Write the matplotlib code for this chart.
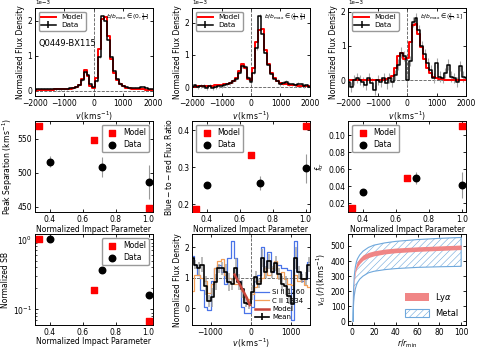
import numpy as np
import matplotlib
matplotlib.use("Agg")
import matplotlib.pyplot as plt

plt.rcParams['font.family'] = ['DejaVu Sans']
plt.rcParams['font.size'] = 5.5
plt.rcParams['mathtext.fontset'] = 'dejavusans'
plt.rcParams['hatch.linewidth'] = 0.4

# ---------------- data ----------------
v_spec = np.arange(-2000, 2001, 100)

data1 = [0.02, 0.04, 0.05, 0.05, 0.04, 0.05, 0.04, 0.03, 0.04, 0.03, 0.04, 0.05, 0.06, 0.07, 0.10,
         0.15, 0.30, 0.52, 0.45, 0.18, 0.10, 0.28, 0.95, 2.12, 2.00, 1.45, 0.95, 0.55, 0.32, 0.20,
         0.14, 0.10, 0.08, 0.07, 0.06, 0.08, 0.10, 0.09, 0.06, 0.05, 0.03]
model1 = [0.00, 0.01, 0.01, 0.02, 0.02, 0.02, 0.02, 0.03, 0.03, 0.03, 0.04, 0.04, 0.05, 0.06, 0.09,
          0.15, 0.33, 0.58, 0.42, 0.12, 0.08, 0.35, 1.20, 2.05, 2.10, 1.55, 0.90, 0.50, 0.30, 0.18,
          0.12, 0.08, 0.06, 0.05, 0.04, 0.04, 0.03, 0.03, 0.02, 0.02, 0.01]
err1 = [0.03] * 41

data2 = [0.00, 0.05, 0.00, 0.04, 0.02, -0.02, 0.03, -0.03, 0.00, 0.02, 0.03, 0.05, 0.08, 0.12, 0.18,
         0.25, 0.45, 0.65, 0.62, 0.28, 0.15, 0.45, 1.20, 2.20, 1.65, 1.05, 0.70, 0.40, 0.25, 0.18,
         0.10, 0.12, 0.15, 0.10, 0.08, 0.05, 0.10, 0.08, 0.02, 0.05, 0.00]
model2 = [0.00, 0.01, 0.02, 0.02, 0.03, 0.03, 0.04, 0.04, 0.05, 0.06, 0.07, 0.08, 0.10, 0.13, 0.20,
          0.28, 0.50, 0.72, 0.60, 0.25, 0.22, 0.60, 1.40, 1.78, 1.80, 1.15, 0.72, 0.45, 0.28, 0.18,
          0.12, 0.10, 0.08, 0.07, 0.06, 0.05, 0.04, 0.04, 0.03, 0.03, 0.02]
err2 = [0.06] * 41

data3 = [-0.05, -0.20, 0.00, 0.05, 0.00, -0.05, -0.15, 0.05, -0.10, -0.30, 0.00, -0.05, 0.05, -0.10, 0.05,
         -0.05, 0.15, 0.45, 0.80, 0.70, 0.00, 0.55, 1.70, 1.80, 1.45, 1.00, 0.75, 0.50, 0.30, 0.05,
         0.50, 0.10, 0.05, 0.20, 0.45, 0.10, 0.05, -0.05, 0.40, 0.10, 0.05]
model3 = [0.0, 0.0, 0.0, 0.0, 0.0, 0.0, 0.0, 0.0, 0.0, 0.0, 0.0, 0.0, 0.01, 0.02, 0.05,
          0.12, 0.35, 0.70, 0.80, 0.60, 0.65, 1.10, 1.60, 1.65, 1.35, 0.95, 0.60, 0.35, 0.20, 0.10,
          0.05, 0.03, 0.02, 0.01, 0.01, 0.0, 0.0, 0.0, 0.0, 0.0, 0.0]
err3 = [0.15] * 41

bin_labels = [r"$b/b_{\rm max}\in(0,\frac{1}{3}]$",
              r"$b/b_{\rm max}\in(\frac{1}{3},\frac{2}{3}]$",
              r"$b/b_{\rm max}\in(\frac{2}{3},1]$"]

b_model = [0.333, 0.667, 1.0]
b_data = [0.40, 0.72, 1.0]

sep_model = [569, 548, 448]
sep_data = [516, 508, 486]
sep_err = [8, 15, 25]

ratio_model = [0.189, 0.334, 0.411]
ratio_data = [0.252, 0.258, 0.297]
ratio_err = [0.008, 0.018, 0.040]

ftr_model = [0.0149, 0.0496, 0.1106]
ftr_data = [0.033, 0.0496, 0.0413]
ftr_err = [0.002, 0.0069, 0.0154]

sb_model = [1.0, 0.19, 0.068]
sb_data = [1.0, 0.37, 0.163]

v_metal = np.linspace(-1458.3, 1458.3, 36)
si_1260 = [1.70, 1.40, 1.10, 0.60, 0.05, -0.05, 0.90, 1.30, 1.40, 1.20, 0.80, 1.64, 2.20, 1.64, 0.90, 0.05,
           -0.15, -0.15, 0.05, 0.90, 1.10, 2.00, 1.30, 1.85, 1.20, 1.50, 1.40, 1.30, 1.30, 1.25, -0.40, 2.20,
           1.20, 0.90, 0.95, 1.50]
c_1334 = [0.55, 1.10, 1.10, 1.00, 0.90, 0.50, 0.80, 1.30, 1.55, 1.60, 1.10, 1.00, 0.95, 0.80, 0.80, 0.55,
          0.35, 0.30, 0.45, 0.70, 0.90, 1.00, 1.30, 1.10, 1.30, 1.55, 1.00, 1.20, 0.95, 0.80, 0.75, 1.10,
          0.90, 0.95, 0.75, 0.70]
mean_metal = [1.64, 1.42, 1.30, 1.42, 0.74, 0.24, 0.35, 0.86, 1.30, 1.30, 1.19, 0.86, 0.80, 1.30, 0.86, 0.63,
              0.18, 0.13, 0.52, 1.02, 0.80, 1.64, 1.19, 1.53, 1.19, 1.47, 1.13, 0.80, 0.74, 0.40, 0.12, 1.64,
              1.19, 0.97, 0.97, 1.42]
mean_err = [0.20, 0.15, 0.20, 0.25, 0.30, 0.20, 0.30, 0.25, 0.15, 0.20, 0.25, 0.30, 0.20, 0.35, 0.25, 0.30,
            0.15, 0.15, 0.25, 0.20, 0.15, 0.30, 0.20, 0.25, 0.20, 0.25, 0.20, 0.25, 0.30, 0.25, 0.20, 0.35,
            0.20, 0.15, 0.20, 0.25]
v_model_abs = [-400, -300, -200, -100, -20]
model_abs = [1.10, 0.85, 0.60, 0.35, 0.10]

r_grid = [1.0, 1.1, 1.25, 1.5, 2, 3, 4, 5, 7, 10, 15, 20, 30, 40, 60, 80, 100]
lya_lo = [0, 95, 150, 200, 260, 318, 348, 362, 383, 405, 423, 434, 447, 455, 464, 470, 476]
lya_hi = [0, 125, 180, 230, 292, 352, 382, 398, 418, 440, 457, 467, 479, 486, 494, 500, 506]
met_lo = [0, 60, 95, 130, 170, 215, 240, 258, 280, 300, 322, 332, 343, 350, 358, 362, 365]
met_hi = [0, 110, 170, 225, 300, 360, 395, 415, 440, 465, 490, 505, 520, 530, 542, 550, 556]

# ---------------- layout ----------------
fig = plt.figure(figsize=(4.79, 3.52), dpi=100)
xs = [0.073, 0.401, 0.727]
ys = [0.727, 0.398, 0.076]
w, h = 0.246, 0.258
h_top = 0.25

def style(ax):
    ax.tick_params(direction='in', top=True, right=True, length=2.5, width=0.6, labelsize=5.5, pad=2)
    for s in ax.spines.values():
        s.set_linewidth(0.7)

# ---------------- top row ----------------
specs = [(data1, model1, err1, (-0.16, 2.36)),
         (data2, model2, err2, (-0.28, 2.45)),
         (data3, model3, err3, (-0.47, 2.10))]
for i, (d, m, e, yl) in enumerate(specs):
    ax = fig.add_axes([xs[i], ys[0], w, h_top])
    style(ax)
    d = np.array(d) * 1e-3
    m = np.array(m) * 1e-3
    e = np.array(e) * 1e-3
    ax.axvline(0, color='0.35', ls='--', lw=0.6)
    ax.axhline(0, color='0.35', ls='--', lw=0.6)
    ax.errorbar(v_spec, d, yerr=e, fmt='none', ecolor='0.65', elinewidth=0.8)
    ax.step(v_spec, m, where='mid', color='red', lw=1.4, label='Model')
    ax.step(v_spec, d, where='mid', color='black', lw=1.1)
    ax.errorbar([], [], yerr=[], color='black', lw=1.1, label='Data')
    ax.set_xlim(-2000, 2000)
    ax.set_xticks([-2000, -1000, 0, 1000, 2000])
    ax.set_ylim(yl[0] * 1e-3, yl[1] * 1e-3)
    ax.set_yticks([0, 1e-3, 2e-3])
    ax.ticklabel_format(axis='y', style='sci', scilimits=(0, 0), useMathText=False)
    ax.yaxis.get_offset_text().set_fontsize(4.0)
    ax.set_xlabel(r"$v\,(\rm km\,s^{-1})$", fontsize=5.5, labelpad=1)
    ax.set_ylabel("Normalized Flux Density", fontsize=5.5, labelpad=2)
    ax.legend(loc='upper left', fontsize=5.2, handlelength=2.0, borderpad=0.35,
              labelspacing=0.25, fancybox=True, edgecolor='0.5')
    ax.text(0.97, 0.90, bin_labels[i], transform=ax.transAxes, ha='right', va='center', fontsize=4.3)
    if i == 0:
        ax.text(0.03, 0.57, "Q0449-BX115", transform=ax.transAxes, fontsize=6)

# ---------------- middle row ----------------
def scatter_panel(ax, ym, yd, ye, ylabel, loc, ylim, yticks):
    style(ax)
    ax.scatter(b_model, ym, marker='s', s=22, color='red', label='Model', zorder=3)
    if ye is not None:
        ax.errorbar(b_data, yd, yerr=ye, fmt='none', ecolor='0.6', elinewidth=0.8, zorder=2)
    ax.scatter(b_data, yd, marker='o', s=22, color='black', label='Data', zorder=3)
    ax.set_xlim(0.31, 1.026)
    ax.set_xticks([0.4, 0.6, 0.8, 1.0])
    ax.set_ylim(*ylim)
    if yticks is not None:
        ax.set_yticks(yticks)
    ax.set_xlabel("Normalized Impact Parameter", fontsize=5.5, labelpad=1)
    ax.set_ylabel(ylabel, fontsize=5.5, labelpad=2)
    ax.legend(loc=loc, fontsize=5.5, handletextpad=0.4, borderpad=0.4, labelspacing=0.4,
              fancybox=True, edgecolor='0.5', markerscale=1.0)

ax = fig.add_axes([xs[0], ys[1], w, h])
scatter_panel(ax, sep_model, sep_data, sep_err, r"Peak Separation $(\rm km\,s^{-1})$",
              'upper right', (442.6, 575.6), [450, 500, 550])
ax = fig.add_axes([xs[1], ys[1], w, h])
scatter_panel(ax, ratio_model, ratio_data, ratio_err, r"$\rm Blue-to-red\ Flux\ Ratio$",
              'upper left', (0.18, 0.4245), [0.2, 0.3, 0.4])
ax = fig.add_axes([xs[2], ys[1], w, h])
scatter_panel(ax, ftr_model, ftr_data, ftr_err, r"$f_{\rm tr}$",
              'upper left', (0.0101, 0.1165), [0.02, 0.04, 0.06, 0.08, 0.10])

# ---------------- bottom row ----------------
ax = fig.add_axes([xs[0], ys[2], w, h])
scatter_panel(ax, sb_model, sb_data, None, "Normalized SB", 'upper right', (0.0594, 1.18), None)
ax.set_yscale('log')
ax.set_ylim(0.0594, 1.18)
ax.tick_params(which='minor', direction='in', length=1.5, width=0.5, right=True)
ax.xaxis.labelpad = 0

ax = fig.add_axes([xs[1], ys[2], w, h])
style(ax)
ax.axvline(0, color='0.35', ls='--', lw=0.6)
ax.axhline(1, color='0.35', ls='--', lw=0.6)
ax.step(v_metal, si_1260, where='mid', color='#4a74e8', lw=0.9, label='Si II 1260')
ax.step(v_metal, c_1334, where='mid', color='#f4a05a', lw=0.9, label='C II 1334')
ax.plot(v_model_abs, model_abs, color='#c8453a', lw=1.8, label='Model', zorder=4)
ax.errorbar(v_metal, mean_metal, yerr=mean_err, fmt='none', ecolor='0.6', elinewidth=1.2, alpha=0.8)
ax.step(v_metal, mean_metal, where='mid', color='black', lw=1.2)
ax.errorbar([], [], yerr=[], color='black', lw=1.2, label='Mean')
ax.set_xlim(-1460, 1480)
ax.set_xticks([-1000, 0, 1000])
ax.set_ylim(-0.56, 2.415)
ax.set_yticks([0, 1, 2])
ax.set_xlabel(r"$v\,(\rm km\,s^{-1})$", fontsize=5.5, labelpad=0)
ax.set_ylabel("Normalized Flux Density", fontsize=5.5, labelpad=2)
ax.legend(loc='lower right', fontsize=5.0, frameon=False, handlelength=2.0, labelspacing=0.35,
          borderpad=0.2, handletextpad=0.5)

ax = fig.add_axes([xs[2], ys[2], w, h])
style(ax)
ax.fill_between(r_grid, met_lo, met_hi, facecolor='none', edgecolor='#6fa8dc', hatch='/////',
                lw=0.8, label='Metal')
ax.fill_between(r_grid, lya_lo, lya_hi, color='#f08080', lw=0, alpha=0.95,
                label=r'Ly$\alpha$', zorder=3)
ax.set_xlim(-3.5, 104.5)
ax.set_ylim(-25, 576)
ax.set_xticks([0, 20, 40, 60, 80, 100])
ax.set_yticks([0, 100, 200, 300, 400, 500])
ax.set_xlabel(r"$r/r_{\rm min}$", fontsize=5.5, labelpad=0)
ax.set_ylabel(r"$v_{\rm cl}\,(r)\,(\rm km\,s^{-1})$", fontsize=5.5, labelpad=2)
handles, labels = ax.get_legend_handles_labels()
ax.legend(handles[::-1], labels[::-1], loc='lower right', fontsize=6, frameon=False,
          handlelength=2.8, handleheight=1.2, labelspacing=0.6)

fig.savefig("out.png", dpi=100)
